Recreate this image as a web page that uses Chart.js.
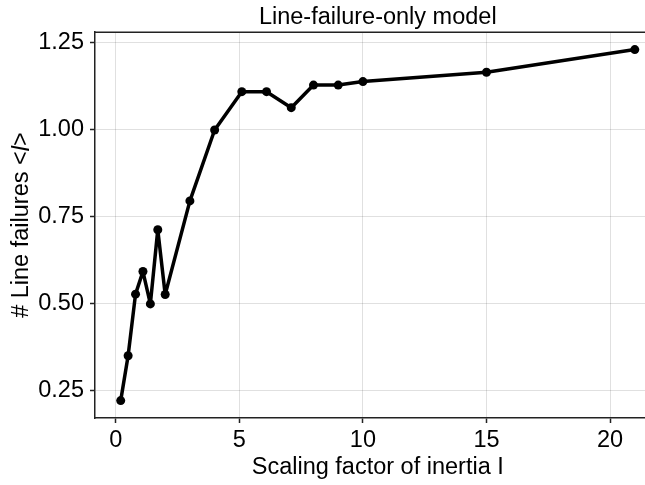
<!DOCTYPE html>
<html>
<head>
<meta charset="utf-8">
<script src="https://cdn.jsdelivr.net/npm/chart.js@4/dist/chart.umd.min.js"></script>
<style>
  html, body { margin: 0; padding: 0; background: #fff; overflow: hidden; }
  /* plot area runs past the right edge of the picture, so the canvas does too */
  #wrap { width: 665px; height: 485px; }
</style>
</head>
<body>
<div id="wrap"><canvas id="chart"></canvas></div>
<script>
const inertia = [0.2, 0.5, 0.8, 1.1, 1.4, 1.7, 2, 3, 4, 5.1, 6.1, 7.1, 8, 9, 10, 15, 21];
const failures = [0.222, 0.351, 0.528, 0.593, 0.5, 0.713, 0.527, 0.796, 1.0, 1.11, 1.11, 1.064, 1.129, 1.129, 1.139, 1.166, 1.231];
const xTicks = [0, 5, 10, 15, 20];
const yTicks = [0.25, 0.5, 0.75, 1.0, 1.25];

const FONT = 'Liberation Sans';
const SIZE = 23.5;
const AXIS = '#222';
const GRID = 'rgba(0, 0, 0, 0.12)';

// top spine + y label with italic "l"
const framePlugin = {
  id: 'frame',
  afterDraw(chart) {
    const { ctx, chartArea } = chart;
    ctx.save();
    ctx.strokeStyle = AXIS;
    ctx.lineWidth = 1.5;
    ctx.beginPath();
    ctx.moveTo(chartArea.left - 0.75, chartArea.top);
    ctx.lineTo(chartArea.right, chartArea.top);
    ctx.stroke();

    const parts = [
      { text: '# Line failures <', font: `${SIZE}px "${FONT}"` },
      { text: 'l', font: `italic ${SIZE}px "${FONT}"` },
      { text: '>', font: `${SIZE}px "${FONT}"` },
    ];
    let total = 0;
    parts.forEach((p) => {
      ctx.font = p.font;
      p.w = ctx.measureText(p.text).width;
      total += p.w;
    });
    ctx.translate(22, (chartArea.top + chartArea.bottom) / 2);
    ctx.rotate(-Math.PI / 2);
    ctx.fillStyle = '#000';
    ctx.textBaseline = 'middle';
    ctx.textAlign = 'left';
    let x = -total / 2;
    parts.forEach((p) => {
      ctx.font = p.font;
      ctx.fillText(p.text, x, 0);
      x += p.w;
    });
    ctx.restore();
  },
};

new Chart(document.getElementById('chart'), {
  type: 'line',
  data: {
    datasets: [{
      data: inertia.map((x, i) => ({ x, y: failures[i] })),
      borderColor: '#000',
      backgroundColor: '#000',
      borderWidth: 3.5,
      borderJoinStyle: 'round',
      pointRadius: 4.5,
      pointHoverRadius: 4.5,
      pointBorderWidth: 0,
      tension: 0,
      clip: false,
    }],
  },
  options: {
    responsive: true,
    maintainAspectRatio: false,
    animation: false,
    events: [],
    layout: { padding: 0 },
    plugins: {
      legend: { display: false },
      tooltip: { enabled: false },
      title: {
        display: true,
        text: 'Line-failure-only model',
        fullSize: false,
        color: '#000',
        font: { family: FONT, size: SIZE, weight: 'normal' },
        padding: { top: 3, bottom: 1 },
      },
    },
    scales: {
      x: {
        type: 'linear',
        min: -0.84,
        max: 22.04,
        afterBuildTicks: (scale) => { scale.ticks = xTicks.map((value) => ({ value })); },
        afterFit: (scale) => {
          scale.height = 67;
          scale.paddingLeft = 0;
          scale.paddingRight = 0;
        },
        ticks: {
          color: '#000',
          padding: 3,
          maxRotation: 0,
          font: { family: FONT, size: SIZE },
        },
        grid: { color: GRID, tickColor: AXIS, tickLength: 5, tickWidth: 1.5 },
        border: { color: AXIS, width: 1.5 },
        title: {
          display: true,
          text: 'Scaling factor of inertia I',
          color: '#000',
          font: { family: FONT, size: SIZE },
          padding: { top: 0, bottom: 3 },
        },
      },
      y: {
        min: 0.172,
        max: 1.281,
        afterBuildTicks: (scale) => { scale.ticks = yTicks.map((value) => ({ value })); },
        afterFit: (scale) => { scale.width = 95; },
        ticks: {
          color: '#000',
          padding: 6,
          font: { family: FONT, size: SIZE },
          callback: (v) => v.toFixed(2),
        },
        grid: { color: GRID, tickColor: AXIS, tickLength: 5, tickWidth: 1.5 },
        border: { color: AXIS, width: 1.5 },
      },
    },
  },
  plugins: [framePlugin],
});
</script>
</body>
</html>
